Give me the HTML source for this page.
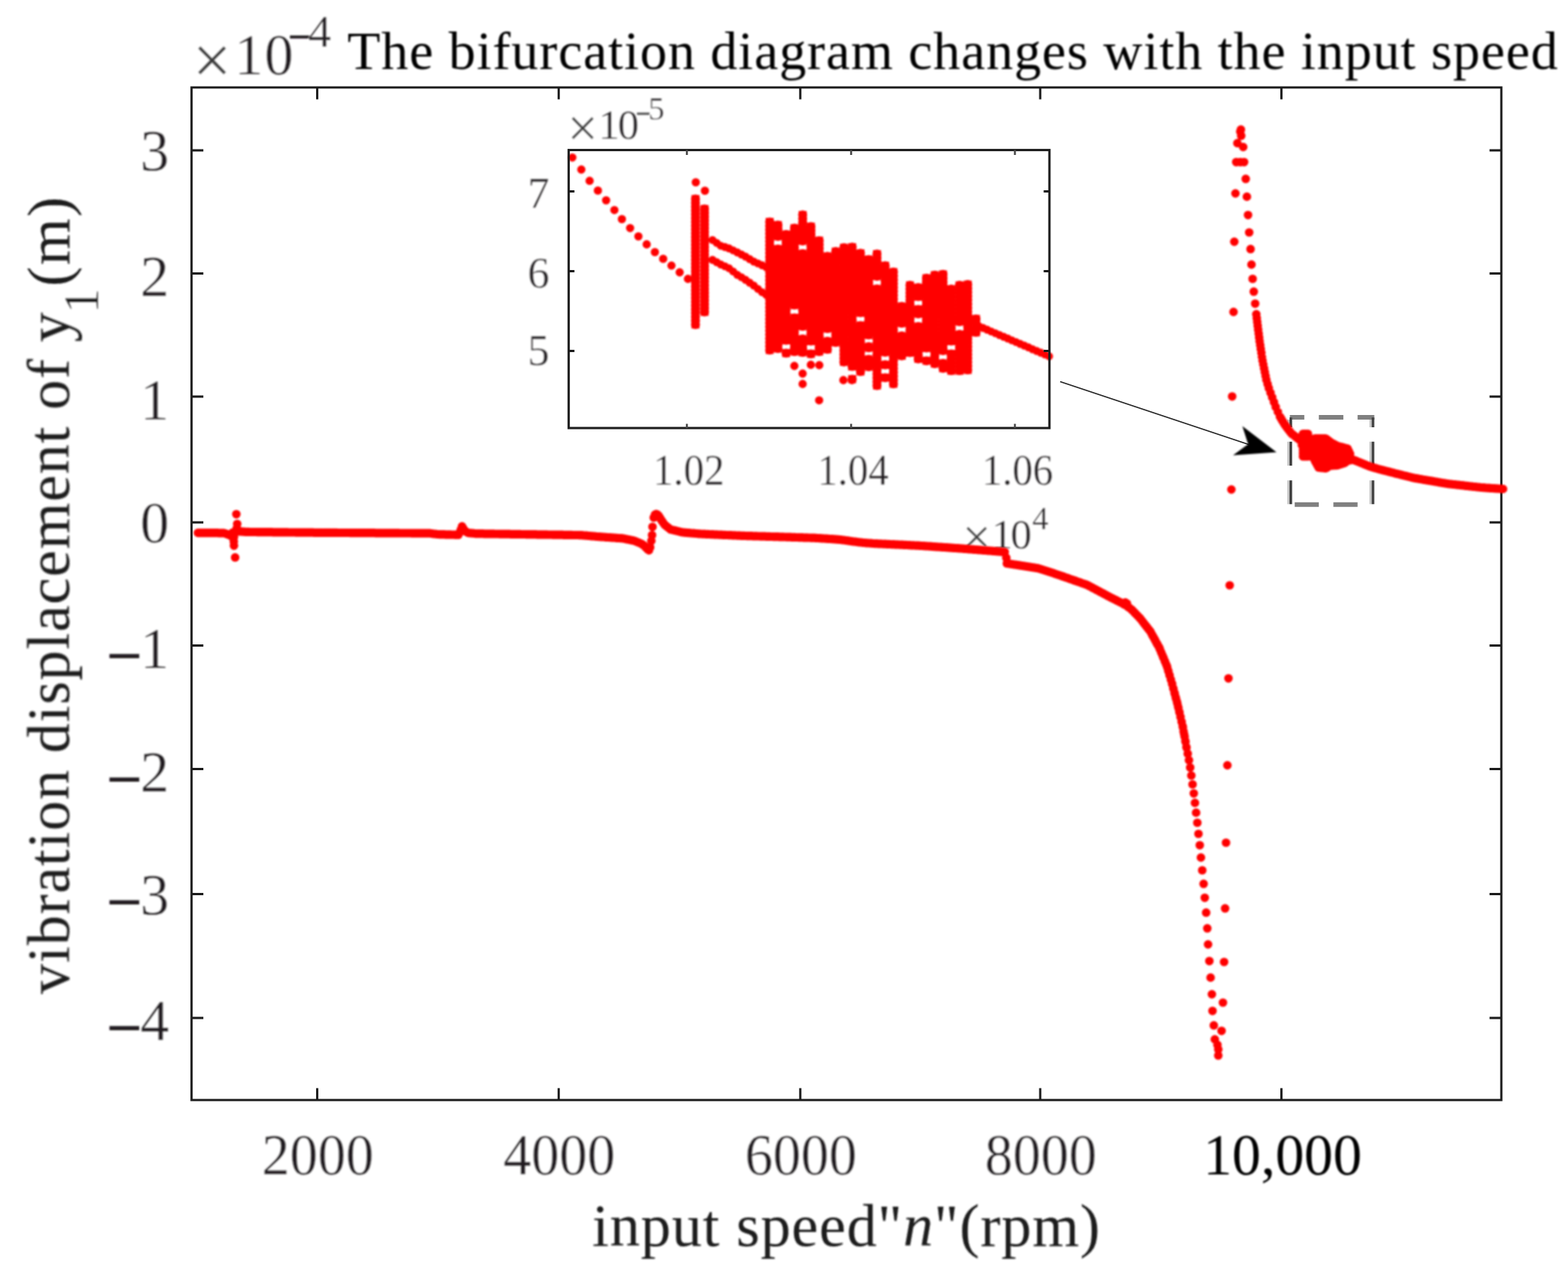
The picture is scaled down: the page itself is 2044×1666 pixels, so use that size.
<!DOCTYPE html>
<html lang="en"><head><meta charset="utf-8"><title>The bifurcation diagram changes with the input speed</title>
<style>html,body{margin:0;padding:0;background:#fff}body{width:2044px;height:1666px;overflow:hidden}svg{display:block}</style>
</head><body>
<svg width="2044" height="1666" viewBox="0 0 2044 1666"><rect width="2044" height="1666" fill="#fff"/><defs><filter id="ft" x="0" y="0" width="2044" height="1666" filterUnits="userSpaceOnUse"><feGaussianBlur stdDeviation="0.9"/></filter><filter id="fd" x="0" y="0" width="2044" height="1666" filterUnits="userSpaceOnUse"><feGaussianBlur stdDeviation="0.95"/></filter></defs><g stroke="#1c1c1c" stroke-width="2.9" fill="none"><rect x="249.7" y="114" width="1707.4" height="1320"/><path d="M413.5 1434v-15.4M413.5 114v15.4M728.3 1434v-15.4M728.3 114v15.4M1043.2 1434v-15.4M1043.2 114v15.4M1356 1434v-15.4M1356 114v15.4M1670.4 1434v-15.4M1670.4 114v15.4M249.7 196h15.4M1957.1 196h-15.4M249.7 356.5h15.4M1957.1 356.5h-15.4M249.7 517h15.4M1957.1 517h-15.4M249.7 681h15.4M1957.1 681h-15.4M249.7 841.5h15.4M1957.1 841.5h-15.4M249.7 1002.5h15.4M1957.1 1002.5h-15.4M249.7 1165.5h15.4M1957.1 1165.5h-15.4M249.7 1327h15.4M1957.1 1327h-15.4"/></g><g font-family='"Liberation Serif", "DejaVu Serif", serif' fill="#231f20" stroke="#fff" stroke-width="0.4" filter="url(#ft)"><text x="251.1" y="108.9" font-size="90" fill="#3a3a3a">×</text><text x="305.6" y="96.7" font-size="75.5" letter-spacing="1.4">10</text><text x="375.8" y="65.75" font-size="54" stroke="#231f20" stroke-width="1.2">−</text><text x="401.7" y="61.2" font-size="60">4</text><text x="452.7" y="89.7" font-size="70.5" textLength="1578" lengthAdjust="spacing" fill="#000" stroke="none">The bifurcation diagram changes with the input speed</text><text x="182.75" y="221.6" font-size="75.5">3</text><text x="182.75" y="386" font-size="75.5">2</text><text x="182.75" y="546.6" font-size="75.5">1</text><text x="182.75" y="707.1" font-size="75.5">0</text><text font-size="75.5"><tspan x="139.6" y="881.9" font-size="80" stroke="#231f20" stroke-width="1.6">−</tspan><tspan x="182.75" y="871.3">1</tspan></text><text font-size="75.5"><tspan x="139.6" y="1042.7" font-size="80" stroke="#231f20" stroke-width="1.6">−</tspan><tspan x="182.75" y="1032.1">2</tspan></text><text font-size="75.5"><tspan x="139.6" y="1202.9" font-size="80" stroke="#231f20" stroke-width="1.6">−</tspan><tspan x="182.75" y="1192.3">3</tspan></text><text font-size="75.5"><tspan x="139.6" y="1366.9" font-size="80" stroke="#231f20" stroke-width="1.6">−</tspan><tspan x="182.75" y="1356.3">4</tspan></text><text x="414.3" y="1530.6" font-size="76" text-anchor="middle" textLength="146" lengthAdjust="spacingAndGlyphs">2000</text><text x="729.0999999999999" y="1530.6" font-size="76" text-anchor="middle" textLength="146" lengthAdjust="spacingAndGlyphs">4000</text><text x="1044.0" y="1530.6" font-size="76" text-anchor="middle" textLength="146" lengthAdjust="spacingAndGlyphs">6000</text><text x="1356.8" y="1530.6" font-size="76" text-anchor="middle" textLength="146" lengthAdjust="spacingAndGlyphs">8000</text><text x="1671.9" y="1530.6" font-size="76" text-anchor="middle" textLength="207" lengthAdjust="spacingAndGlyphs" fill="#000" stroke="none">10,000</text><text x="772" y="1624.2" font-size="78.5" textLength="662" lengthAdjust="spacing" fill="#1a1a1a" stroke="none">input speed"<tspan font-style="italic">n</tspan>"(rpm)</text><text transform="translate(89.6 1295.5) rotate(-90)" font-size="78" textLength="888.5" lengthAdjust="spacing" fill="#1a1a1a" stroke="none">vibration displacement of y</text><text transform="translate(128 408.7) rotate(-90)" font-size="66" fill="#1a1a1a">1</text><text transform="translate(89.6 373.6) rotate(-90)" font-size="78.5" textLength="117" lengthAdjust="spacing" fill="#1a1a1a" stroke="none">(m)</text><text x="716.2" y="271.2" font-size="57" text-anchor="end">7</text><text x="716.2" y="374.6" font-size="57" text-anchor="end">6</text><text x="716.2" y="475.8" font-size="57" text-anchor="end">5</text><text x="897.8" y="632.3" font-size="56.5" text-anchor="middle" textLength="93" lengthAdjust="spacingAndGlyphs">1.02</text><text x="1112" y="632.3" font-size="56.5" text-anchor="middle" textLength="93" lengthAdjust="spacingAndGlyphs">1.04</text><text x="1326.4" y="632.3" font-size="56.5" text-anchor="middle" textLength="93" lengthAdjust="spacingAndGlyphs">1.06</text><text x="739.5" y="191.3" font-size="71" fill="#3a3a3a">×</text><text x="780" y="181.3" font-size="55.5" letter-spacing="-2.6">10</text><text x="829.3" y="158.6" font-size="32" stroke="#555" stroke-width="1.5">−</text><text x="845.1" y="156.2" font-size="42.5">5</text><text x="1254.5" y="721.5" font-size="66" fill="#3a3a3a">×</text><text x="1292.6" y="714.6" font-size="55.5" letter-spacing="-3">10</text><text x="1345.6" y="689.8" font-size="42.5">4</text></g><path d="M1382 497.5L1628 579.5" stroke="#222" stroke-width="1.7" fill="none"/><g filter="url(#ft)"><path d="M1664 589.5L1619.5 555.5L1627 579L1607.3 593.5Z" fill="#000"/></g><g fill="none" stroke-width="6" stroke="#808080"><path d="M1681.4 543.9H1700.3M1719.2 543.9H1751.2M1769.7 543.9H1791.5"/><path d="M1687.7 657.7H1719.2M1738.2 657.7H1769.7"/></g><path d="M1682.7 544.3V556.9M1682.7 575.8V606.9M1682.7 626.2V657.3" stroke="#404040" stroke-width="3.4" fill="none"/><path d="M1679.6000000000001 547V556.9M1679.6000000000001 575.8V606.9M1679.6000000000001 626.2V657.3" stroke="#c4c4c4" stroke-width="2.8" fill="none"/><path d="M1789.8 544.3V556.9M1789.8 575.8V606.9M1789.8 626.2V657.3" stroke="#404040" stroke-width="3.4" fill="none"/><path d="M1786.7 547V556.9M1786.7 575.8V606.9M1786.7 626.2V657.3" stroke="#c4c4c4" stroke-width="2.8" fill="none"/><g stroke="#ff0000" fill="none" stroke-linecap="round" filter="url(#fd)"><path d="M258.0 694.6h0M259.6 694.6h0M261.1 694.6h0M262.7 694.6h0M264.3 694.6h0M265.9 694.6h0M267.4 694.7h0M269.0 694.7h0M270.6 694.7h0M272.1 694.7h0M273.7 694.7h0M275.3 694.7h0M276.9 694.7h0M278.4 694.7h0M280.0 694.7h0M281.6 694.7h0M283.2 694.7h0M284.7 694.8h0M286.3 694.8h0M287.9 694.8h0M289.4 694.8h0M291.0 694.8h0M292.6 695.0h0M294.2 695.6h0M295.7 696.2h0M297.3 696.7h0M298.9 697.5h0M300.4 698.4h0M302.0 699.2h0M303.6 694.0h0M305.2 693.7h0M306.7 693.4h0M308.3 693.1h0M309.9 692.8h0M311.4 692.6h0M313.0 692.8h0M314.6 692.9h0M316.2 693.1h0M317.7 693.2h0M319.3 693.3h0M320.9 693.4h0M322.5 693.4h0M324.0 693.4h0M325.6 693.5h0M327.2 693.5h0M328.7 693.5h0M330.3 693.5h0M331.9 693.5h0M333.5 693.5h0M335.0 693.6h0M336.6 693.6h0M338.2 693.6h0M339.7 693.6h0M341.3 693.6h0M342.9 693.6h0M344.5 693.6h0M346.0 693.7h0M347.6 693.7h0M349.2 693.7h0M350.7 693.7h0M352.3 693.7h0M353.9 693.7h0M355.5 693.8h0M357.0 693.8h0M358.6 693.8h0M360.2 693.8h0M361.8 693.8h0M363.3 693.8h0M364.9 693.8h0M366.5 693.9h0M368.0 693.9h0M369.6 693.9h0M371.2 693.9h0M372.8 693.9h0M374.3 693.9h0M375.9 694.0h0M377.5 694.0h0M379.0 694.0h0M380.6 694.0h0M382.2 694.0h0M383.8 694.0h0M385.3 694.1h0M386.9 694.1h0M388.5 694.1h0M390.0 694.1h0M391.6 694.1h0M393.2 694.1h0M394.8 694.1h0M396.3 694.2h0M397.9 694.2h0M399.5 694.2h0M401.1 694.2h0M402.6 694.2h0M404.2 694.2h0M405.8 694.2h0M407.3 694.2h0M408.9 694.3h0M410.5 694.3h0M412.1 694.3h0M413.6 694.3h0M415.2 694.3h0M416.8 694.3h0M418.3 694.3h0M419.9 694.3h0M421.5 694.3h0M423.1 694.3h0M424.6 694.4h0M426.2 694.4h0M427.8 694.4h0M429.3 694.4h0M430.9 694.4h0M432.5 694.4h0M434.1 694.4h0M435.6 694.4h0M437.2 694.4h0M438.8 694.4h0M440.4 694.5h0M441.9 694.5h0M443.5 694.5h0M445.1 694.5h0M446.6 694.5h0M448.2 694.5h0M449.8 694.5h0M451.4 694.5h0M452.9 694.5h0M454.5 694.5h0M456.1 694.6h0M457.6 694.6h0M459.2 694.6h0M460.8 694.6h0M462.4 694.6h0M463.9 694.6h0M465.5 694.6h0M467.1 694.6h0M468.6 694.6h0M470.2 694.6h0M471.8 694.6h0M473.4 694.7h0M474.9 694.7h0M476.5 694.7h0M478.1 694.7h0M479.7 694.7h0M481.2 694.7h0M482.8 694.7h0M484.4 694.7h0M485.9 694.7h0M487.5 694.7h0M489.1 694.8h0M490.7 694.8h0M492.2 694.8h0M493.8 694.8h0M495.4 694.8h0M496.9 694.8h0M498.5 694.8h0M500.1 694.8h0M501.7 694.8h0M503.2 694.8h0M504.8 694.9h0M506.4 694.9h0M507.9 694.9h0M509.5 694.9h0M511.1 694.9h0M512.7 694.9h0M514.2 694.9h0M515.8 694.9h0M517.4 694.9h0M519.0 694.9h0M520.5 695.0h0M522.1 695.0h0M523.7 695.0h0M525.2 695.0h0M526.8 695.0h0M528.4 695.0h0M530.0 695.0h0M531.5 695.0h0M533.1 695.0h0M534.7 695.0h0M536.2 695.1h0M537.8 695.1h0M539.4 695.1h0M541.0 695.1h0M542.5 695.1h0M544.1 695.1h0M545.7 695.1h0M547.2 695.1h0M548.8 695.1h0M550.4 695.1h0M552.0 695.1h0M553.5 695.2h0M555.1 695.2h0M556.7 695.2h0M558.3 695.2h0M559.8 695.2h0M561.4 695.4h0M563.0 695.6h0M564.5 695.8h0M566.1 696.0h0M567.7 696.2h0M569.3 696.4h0M570.8 696.5h0M572.4 696.6h0M574.0 696.6h0M575.5 696.6h0M577.1 696.7h0M578.7 696.7h0M580.3 696.8h0M581.8 696.8h0M583.4 696.8h0M585.0 696.9h0M586.5 696.9h0M588.1 697.0h0M589.7 697.0h0M591.3 697.0h0M592.8 697.1h0M594.4 697.1h0M596.0 697.1h0M597.6 697.2h0M599.1 694.4h0M600.7 690.4h0M602.3 686.1h0M603.8 688.6h0M605.4 691.1h0M607.0 692.6h0M608.6 693.7h0M610.1 694.6h0M611.7 694.8h0M613.3 694.9h0M614.8 695.1h0M616.4 695.2h0M618.0 695.4h0M619.6 695.6h0M621.1 695.6h0M622.7 695.6h0M624.3 695.7h0M625.8 695.7h0M627.4 695.7h0M629.0 695.7h0M630.6 695.8h0M632.1 695.8h0M633.7 695.8h0M635.3 695.8h0M636.9 695.8h0M638.4 695.9h0M640.0 695.9h0M641.6 695.9h0M643.1 695.9h0M644.7 696.0h0M646.3 696.0h0M647.9 696.0h0M649.4 696.0h0M651.0 696.1h0M652.6 696.1h0M654.1 696.1h0M655.7 696.1h0M657.3 696.1h0M658.9 696.2h0M660.4 696.2h0M662.0 696.2h0M663.6 696.2h0M665.1 696.3h0M666.7 696.3h0M668.3 696.3h0M669.9 696.3h0M671.4 696.4h0M673.0 696.4h0M674.6 696.4h0M676.2 696.4h0M677.7 696.4h0M679.3 696.5h0M680.9 696.5h0M682.4 696.5h0M684.0 696.5h0M685.6 696.6h0M687.2 696.6h0M688.7 696.6h0M690.3 696.6h0M691.9 696.6h0M693.4 696.7h0M695.0 696.7h0M696.6 696.7h0M698.2 696.7h0M699.7 696.8h0M701.3 696.8h0M702.9 696.8h0M704.4 696.8h0M706.0 696.9h0M707.6 696.9h0M709.2 696.9h0M710.7 696.9h0M712.3 696.9h0M713.9 697.0h0M715.5 697.0h0M717.0 697.0h0M718.6 697.0h0M720.2 697.1h0M721.7 697.1h0M723.3 697.1h0M724.9 697.1h0M726.5 697.2h0M728.0 697.2h0M729.6 697.2h0M731.2 697.2h0M732.7 697.2h0M734.3 697.3h0M735.9 697.3h0M737.5 697.3h0M739.0 697.3h0M740.6 697.4h0M742.2 697.4h0M743.7 697.4h0M745.3 697.4h0M746.9 697.5h0M748.5 697.5h0M750.0 697.5h0M751.6 697.5h0M753.2 697.5h0M754.8 697.6h0M756.3 697.6h0M757.9 697.7h0M759.5 697.8h0M761.0 698.0h0M762.6 698.1h0M764.2 698.2h0M765.8 698.4h0M767.3 698.5h0M768.9 698.6h0M770.5 698.8h0M772.0 698.9h0M773.6 699.0h0M775.2 699.2h0M776.8 699.3h0M778.3 699.5h0M779.9 699.6h0M781.5 699.7h0M783.0 699.8h0M784.6 699.9h0M786.2 700.0h0M787.8 700.1h0M789.3 700.3h0M790.9 700.4h0M792.5 700.5h0M794.1 700.6h0M795.6 700.7h0M797.2 700.8h0M798.8 700.9h0M800.3 701.0h0M801.9 701.1h0M803.5 701.3h0M805.1 701.4h0M806.6 701.5h0M808.2 701.6h0M809.8 701.7h0M811.3 701.8h0M812.9 702.1h0M814.5 702.4h0M816.1 702.8h0M817.6 703.1h0M819.2 703.4h0M820.8 703.7h0M822.3 704.1h0M823.9 704.4h0M825.5 704.7h0M827.1 705.0h0M828.6 705.7h0M830.2 706.3h0M831.8 707.0h0M833.4 707.6h0M834.9 708.3h0M836.5 709.0h0M838.1 710.2h0M839.6 711.3h0M841.2 713.0h0M842.8 714.6h0M844.4 716.2h0M845.9 717.4h0M847.5 713.5h0M849.1 705.1h0M850.6 686.8h0M852.2 674.7h0M853.8 670.9h0M855.4 670.0h0M856.9 670.6h0M858.5 672.2h0M860.1 674.7h0M861.6 677.2h0M863.2 679.5h0M864.8 681.9h0M866.4 684.0h0M867.9 685.3h0M869.5 686.6h0M871.1 687.8h0M872.7 689.1h0M874.2 690.2h0M875.8 690.6h0M877.4 691.0h0M878.9 691.4h0M880.5 691.7h0M882.1 692.1h0M883.7 692.5h0M885.2 692.9h0M886.8 693.3h0M888.4 693.7h0M889.9 694.0h0M891.5 694.2h0M893.1 694.3h0M894.7 694.4h0M896.2 694.6h0M897.8 694.7h0M899.4 694.8h0M900.9 695.0h0M902.5 695.1h0M904.1 695.2h0M905.7 695.4h0M907.2 695.5h0M908.8 695.6h0M910.4 695.8h0M912.0 695.9h0M913.5 696.0h0M915.1 696.1h0M916.7 696.2h0M918.2 696.2h0M919.8 696.3h0M921.4 696.4h0M923.0 696.4h0M924.5 696.5h0M926.1 696.6h0M927.7 696.7h0M929.2 696.7h0M930.8 696.8h0M932.4 696.9h0M934.0 696.9h0M935.5 697.0h0M937.1 697.1h0M938.7 697.1h0M940.2 697.2h0M941.8 697.3h0M943.4 697.3h0M945.0 697.4h0M946.5 697.5h0M948.1 697.5h0M949.7 697.6h0M951.3 697.7h0M952.8 697.7h0M954.4 697.8h0M956.0 697.9h0M957.5 697.9h0M959.1 698.0h0M960.7 698.1h0M962.3 698.1h0M963.8 698.2h0M965.4 698.3h0M967.0 698.3h0M968.5 698.4h0M970.1 698.4h0M971.7 698.5h0M973.3 698.6h0M974.8 698.6h0M976.4 698.6h0M978.0 698.7h0M979.5 698.7h0M981.1 698.8h0M982.7 698.8h0M984.3 698.9h0M985.8 698.9h0M987.4 699.0h0M989.0 699.0h0M990.6 699.1h0M992.1 699.1h0M993.7 699.2h0M995.3 699.2h0M996.8 699.2h0M998.4 699.3h0M1000.0 699.3h0M1001.6 699.4h0M1003.1 699.4h0M1004.7 699.5h0M1006.3 699.5h0M1007.8 699.6h0M1009.4 699.6h0M1011.0 699.7h0M1012.6 699.7h0M1014.1 699.7h0M1015.7 699.8h0M1017.3 699.8h0M1018.8 699.9h0M1020.4 699.9h0M1022.0 700.0h0M1023.6 700.0h0M1025.1 700.1h0M1026.7 700.1h0M1028.3 700.2h0M1029.9 700.2h0M1031.4 700.3h0M1033.0 700.3h0M1034.6 700.4h0M1036.1 700.4h0M1037.7 700.5h0M1039.3 700.5h0M1040.9 700.6h0M1042.4 700.6h0M1044.0 700.7h0M1045.6 700.7h0M1047.1 700.8h0M1048.7 700.8h0M1050.3 700.9h0M1051.9 700.9h0M1053.4 701.0h0M1055.0 701.0h0M1056.6 701.1h0M1058.1 701.1h0M1059.7 701.2h0M1061.3 701.2h0M1062.9 701.3h0M1064.4 701.3h0M1066.0 701.5h0M1067.6 701.6h0M1069.2 701.7h0M1070.7 701.8h0M1072.3 701.9h0M1073.9 702.0h0M1075.4 702.1h0M1077.0 702.2h0M1078.6 702.3h0M1080.2 702.4h0M1081.7 702.5h0M1083.3 702.6h0M1084.9 702.7h0M1086.4 702.8h0M1088.0 702.9h0M1089.6 703.1h0M1091.2 703.2h0M1092.7 703.3h0M1094.3 703.4h0M1095.9 703.6h0M1097.4 703.8h0M1099.0 704.0h0M1100.6 704.2h0M1102.2 704.5h0M1103.7 704.7h0M1105.3 704.9h0M1106.9 705.2h0M1108.5 705.4h0M1110.0 705.6h0M1111.6 705.8h0M1113.2 706.0h0M1114.7 706.2h0M1116.3 706.4h0M1117.9 706.6h0M1119.5 706.8h0M1121.0 707.0h0M1122.6 707.1h0M1124.2 707.3h0M1125.7 707.5h0M1127.3 707.6h0M1128.9 707.8h0M1130.5 707.9h0M1132.0 708.0h0M1133.6 708.1h0M1135.2 708.2h0M1136.7 708.4h0M1138.3 708.5h0M1139.9 708.6h0M1141.5 708.7h0M1143.0 708.7h0M1144.6 708.8h0M1146.2 708.9h0M1147.8 708.9h0M1149.3 709.0h0M1150.9 709.1h0M1152.5 709.2h0M1154.0 709.2h0M1155.6 709.3h0M1157.2 709.4h0M1158.8 709.4h0M1160.3 709.5h0M1161.9 709.6h0M1163.5 709.7h0M1165.0 709.7h0M1166.6 709.8h0M1168.2 709.9h0M1169.8 709.9h0M1171.3 710.0h0M1172.9 710.1h0M1174.5 710.2h0M1176.0 710.2h0M1177.6 710.3h0M1179.2 710.4h0M1180.8 710.4h0M1182.3 710.5h0M1183.9 710.6h0M1185.5 710.7h0M1187.1 710.8h0M1188.6 710.8h0M1190.2 710.9h0M1191.8 711.0h0M1193.3 711.1h0M1194.9 711.1h0M1196.5 711.2h0M1198.1 711.3h0M1199.6 711.4h0M1201.2 711.5h0M1202.8 711.6h0M1204.3 711.7h0M1205.9 711.8h0M1207.5 711.9h0M1209.1 712.0h0M1210.6 712.1h0M1212.2 712.2h0M1213.8 712.3h0M1215.3 712.4h0M1216.9 712.6h0M1218.5 712.7h0M1220.1 712.8h0M1221.6 712.9h0M1223.2 713.0h0M1224.8 713.1h0M1226.4 713.2h0M1227.9 713.3h0M1229.5 713.4h0M1231.1 713.5h0M1232.6 713.6h0M1234.2 713.7h0M1235.8 713.8h0M1237.4 713.9h0M1238.9 714.1h0M1240.5 714.2h0M1242.1 714.3h0M1243.6 714.4h0M1245.2 714.5h0M1246.8 714.6h0M1248.4 714.7h0M1249.9 714.8h0M1251.5 714.9h0M1253.1 715.0h0M1254.6 715.2h0M1256.2 715.3h0M1257.8 715.4h0M1259.4 715.5h0M1260.9 715.7h0M1262.5 715.8h0M1264.1 715.9h0M1265.7 716.0h0M1267.2 716.2h0M1268.8 716.3h0M1270.4 716.4h0M1271.9 716.5h0M1273.5 716.7h0M1275.1 716.8h0M1276.7 716.9h0M1278.2 717.0h0M1279.8 717.2h0M1281.4 717.3h0M1282.9 717.4h0M1284.5 717.5h0M1286.1 717.7h0M1287.7 717.8h0M1289.2 717.9h0M1290.8 718.0h0M1292.4 718.2h0M1293.9 718.3h0M1295.5 718.4h0M1297.1 718.6h0M1298.7 718.7h0M1300.2 718.8h0M1301.8 718.9h0M1303.4 719.1h0M1305.0 719.2h0M1306.5 719.3h0M1308.1 719.4h0M1309.7 719.5h0M308.1 670.3h0M309.2 683.0h0M308.6 688.5h0M305.0 700.0h0M304.8 706.0h0M305.0 711.3h0M306.5 726.7h0M1312.5 734.5h0M1314.1 734.7h0M1315.6 735.0h0M1317.2 735.2h0M1318.8 735.5h0M1320.4 735.7h0M1321.9 736.0h0M1323.5 736.2h0M1325.1 736.4h0M1326.6 736.7h0M1328.2 736.9h0M1329.8 737.2h0M1331.4 737.4h0M1332.9 737.6h0M1334.5 737.9h0M1336.1 738.1h0M1337.7 738.4h0M1339.2 738.6h0M1340.8 738.9h0M1342.4 739.1h0M1343.9 739.4h0M1345.5 739.6h0M1347.1 739.9h0M1348.7 740.1h0M1350.2 740.4h0M1351.8 740.6h0M1353.4 740.9h0M1354.9 741.3h0M1356.5 741.8h0M1358.1 742.3h0M1359.7 742.8h0M1361.2 743.4h0M1362.8 743.9h0M1364.4 744.4h0M1365.9 744.9h0M1367.5 745.4h0M1369.1 745.9h0M1370.7 746.4h0M1372.2 746.9h0M1373.8 747.4h0M1375.4 748.0h0M1377.0 748.5h0M1378.5 749.0h0M1380.1 749.5h0M1381.7 750.1h0M1383.2 750.6h0M1384.8 751.2h0M1386.4 751.7h0M1388.0 752.3h0M1389.5 752.8h0M1391.1 753.4h0M1392.7 753.9h0M1394.2 754.5h0M1395.8 755.0h0M1397.4 755.6h0M1399.0 756.1h0M1400.5 756.7h0M1402.1 757.2h0M1403.7 757.8h0M1405.2 758.3h0M1406.8 758.9h0M1408.4 759.4h0M1410.0 760.0h0M1411.5 760.5h0M1413.1 761.1h0M1414.7 761.6h0M1416.3 762.2h0M1417.8 762.8h0M1419.4 763.7h0M1421.0 764.5h0M1422.5 765.3h0M1424.1 766.2h0M1425.7 767.0h0M1427.3 767.9h0M1428.8 768.7h0M1430.4 769.5h0M1432.0 770.4h0M1433.5 771.2h0M1435.1 772.1h0M1436.7 772.9h0M1438.3 773.7h0M1439.8 774.6h0M1441.4 775.4h0M1443.0 776.3h0M1444.5 777.1h0M1446.1 777.9h0M1447.7 778.8h0M1449.3 779.5h0M1450.8 780.3h0M1452.4 781.1h0M1454.0 781.9h0M1455.6 782.7h0M1457.1 783.5h0M1458.7 784.3h0M1460.3 785.1h0M1461.8 785.9h0M1463.4 786.8h0M1465.0 787.7h0M1466.6 788.5h0M1468.1 789.4h0M1469.7 790.5h0M1471.3 791.7h0M1472.8 792.9h0M1474.4 794.1h0M1476.0 795.5h0M1477.6 797.1h0M1479.1 798.7h0M1480.7 800.4h0M1482.3 802.0h0M1483.8 803.6h0M1485.4 805.2h0M1487.0 807.1h0M1488.6 809.1h0M1490.1 811.1h0M1491.7 813.2h0M1493.3 815.2h0M1494.9 817.2h0M1496.4 819.2h0M1498.0 821.2h0M1499.6 823.3h0M1501.1 826.1h0M1502.7 829.0h0M1504.3 831.8h0M1505.9 834.7h0M1507.4 837.6h0M1509.0 840.4h0M1510.6 843.3h0M1512.1 846.6h0M1513.7 850.4h0M1515.3 854.2h0M1516.9 858.0h0M1518.4 861.8h0M1520.0 865.6h0M1521.6 869.9h0M1523.1 875.3h0M1524.7 880.6h0M1526.3 886.0h0M1527.9 891.3h0M1529.4 897.2h0M1531.0 903.0h0M1532.6 908.9h0M1534.2 914.8h0M1535.7 921.1h0M1537.3 927.8h0M1538.9 934.5h0M1540.4 941.2h0M1542.0 948.3h0M1543.6 957.1h0M1545.2 965.9h0M1546.7 974.6h0M1548.3 982.5h0M1475.0 794.5h0M1480.5 800.1h0M1485.9 805.7h0M1490.5 811.6h0M1495.0 817.4h0M1499.6 823.3h0M1502.5 828.7h0M1505.5 834.0h0M1508.5 839.4h0M1511.4 844.8h0M1513.8 850.7h0M1516.2 856.5h0M1518.7 862.4h0M1521.1 868.3h0M1522.8 874.2h0M1524.5 880.0h0M1526.3 885.9h0M1528.0 891.8h0M1529.7 898.1h0M1531.4 904.5h0M1533.1 910.9h0M1534.8 917.2h0M1536.2 923.1h0M1537.6 929.0h0M1538.9 934.8h0M1540.3 940.7h0M1541.7 946.6h0M1542.9 953.5h0M1544.2 960.3h0M1545.4 967.1h0M1546.6 974.0h0M1548.3 982.5h0M1311.8 727.2h0M850.0 697.5h0M1467.0 785.4h0M1469.0 786.8h0M1549.9 991.0h0M1551.5 1000.5h0M1553.0 1011.0h0M1554.6 1022.5h0M1556.2 1034.3h0M1557.7 1046.6h0M1559.2 1059.4h0M1560.8 1072.5h0M1562.3 1087.0h0M1564.0 1101.8h0M1565.5 1117.9h0M1567.2 1134.5h0M1569.0 1152.2h0M1570.5 1170.3h0M1572.3 1189.7h0M1573.8 1210.2h0M1574.8 1231.1h0M1576.5 1252.8h0M1578.1 1274.4h0M1579.8 1296.1h0M1580.6 1317.8h0M1582.3 1336.7h0M1583.6 1354.9h0M1587.0 1362.0h0M1588.1 1368.0h0M1588.1 1376.0h0M1592.4 1343.8h0M1594.2 1307.0h0M1595.7 1254.0h0M1597.0 1184.2h0M1598.2 1098.5h0M1600.0 997.6h0M1601.4 884.3h0M1603.0 763.0h0M1605.2 638.1h0M1606.2 516.8h0M1608.0 406.6h0M1609.0 315.1h0M1610.5 252.1h0M1611.5 211.3h0M1613.0 186.6h0M1616.8 171.4h0M1618.0 177.0h0M1617.6 168.9h0M1620.6 191.6h0M1617.0 211.3h0M1621.8 211.3h0M1623.9 233.2h0M1625.4 256.4h0M1626.9 280.3h0M1628.4 303.0h0M1630.2 324.7h0M1631.4 344.9h0M1632.9 363.5h0M1634.4 380.2h0M1636.2 395.8h0M1637.7 409.6h0M1637.7 409.6h0M1638.3 414.7h0M1638.9 419.7h0M1639.5 424.8h0M1640.1 429.8h0M1640.8 434.9h0M1641.4 439.9h0M1642.0 444.9h0M1642.8 449.9h0M1643.5 455.0h0M1644.3 460.0h0M1645.0 465.1h0M1645.8 470.1h0M1646.8 475.1h0M1647.8 480.2h0M1648.8 485.2h0M1649.8 490.3h0M1650.8 495.3h0M1652.4 500.6h0M1654.0 506.0h0M1656.2 512.0h0M1658.4 518.0h0M1660.7 524.2h0M1663.0 530.5h0M1665.8 536.9h0M1668.5 543.2h0M1668.5 543.2h0M1670.1 545.8h0M1671.6 548.4h0M1673.2 551.0h0M1674.8 553.6h0M1676.4 555.8h0M1677.9 557.9h0M1679.5 560.0h0M1681.1 562.1h0M1682.6 564.1h0M1684.2 565.7h0M1685.8 566.9h0M1687.4 568.1h0M1688.9 569.3h0M1690.5 570.5h0M1692.1 571.8h0M1693.7 573.0h0M1695.2 574.1h0M1696.8 574.9h0M1698.4 575.7h0M1699.9 576.5h0M1701.5 577.3h0M1703.1 578.0h0M1704.7 578.8h0M1706.2 579.6h0M1707.8 580.4h0M1709.4 581.2h0M1710.9 581.8h0M1712.5 582.3h0M1714.1 582.8h0M1715.7 583.3h0M1717.2 583.9h0M1718.8 584.4h0M1720.4 584.9h0M1721.9 585.4h0M1723.5 585.9h0M1725.1 586.4h0M1726.7 586.9h0M1728.2 587.4h0M1729.8 587.9h0M1731.4 588.5h0M1733.0 589.0h0M1734.5 589.5h0M1736.1 590.0h0M1737.7 590.5h0M1739.2 591.0h0M1740.8 591.5h0M1742.4 592.1h0M1744.0 592.6h0M1745.5 593.1h0M1747.1 593.6h0M1748.7 594.1h0M1750.2 594.6h0M1751.8 595.2h0M1753.4 595.7h0M1755.0 596.2h0M1756.5 596.7h0M1758.1 597.2h0M1759.7 597.7h0M1761.2 598.3h0M1762.8 598.8h0M1764.4 599.5h0M1766.0 600.1h0M1767.5 600.7h0M1769.1 601.4h0M1770.7 602.0h0M1772.3 602.6h0M1773.8 603.3h0M1775.4 603.9h0M1777.0 604.5h0M1778.5 605.2h0M1780.1 605.8h0M1781.7 606.5h0M1783.3 607.1h0M1784.8 607.7h0M1786.4 608.3h0M1788.0 608.8h0M1789.5 609.2h0M1791.1 609.7h0M1792.7 610.2h0M1794.3 610.6h0M1795.8 611.1h0M1797.4 611.5h0M1799.0 612.0h0M1800.5 612.4h0M1802.1 612.8h0M1803.7 613.2h0M1805.3 613.6h0M1806.8 614.0h0M1808.4 614.4h0M1810.0 614.8h0M1811.6 615.2h0M1813.1 615.6h0M1814.7 616.0h0M1816.3 616.4h0M1817.8 616.8h0M1819.4 617.3h0M1821.0 617.6h0M1822.6 618.0h0M1824.1 618.4h0M1825.7 618.8h0M1827.3 619.2h0M1828.8 619.6h0M1830.4 620.0h0M1832.0 620.3h0M1833.6 620.7h0M1835.1 621.1h0M1836.7 621.5h0M1838.3 621.9h0M1839.8 622.3h0M1841.4 622.7h0M1843.0 623.1h0M1844.6 623.4h0M1846.1 623.7h0M1847.7 623.9h0M1849.3 624.2h0M1850.9 624.5h0M1852.4 624.7h0M1854.0 625.0h0M1855.6 625.3h0M1857.1 625.5h0M1858.7 625.8h0M1860.3 626.1h0M1861.9 626.3h0M1863.4 626.6h0M1865.0 626.9h0M1866.6 627.1h0M1868.1 627.4h0M1869.7 627.7h0M1871.3 628.0h0M1872.9 628.2h0M1874.4 628.5h0M1876.0 628.8h0M1877.6 629.0h0M1879.1 629.3h0M1880.7 629.6h0M1882.3 629.8h0M1883.9 630.1h0M1885.4 630.4h0M1887.0 630.6h0M1888.6 630.9h0M1890.2 631.0h0M1891.7 631.2h0M1893.3 631.4h0M1894.9 631.5h0M1896.4 631.7h0M1898.0 631.9h0M1899.6 632.1h0M1901.2 632.2h0M1902.7 632.4h0M1904.3 632.6h0M1905.9 632.7h0M1907.4 632.9h0M1909.0 633.1h0M1910.6 633.3h0M1912.2 633.4h0M1913.7 633.6h0M1915.3 633.8h0M1916.9 634.0h0M1918.4 634.1h0M1920.0 634.3h0M1921.6 634.5h0M1923.2 634.6h0M1924.7 634.8h0M1926.3 635.0h0M1927.9 635.2h0M1929.5 635.3h0M1931.0 635.5h0M1932.6 635.6h0M1934.2 635.7h0M1935.7 635.8h0M1937.3 636.0h0M1938.9 636.1h0M1940.5 636.2h0M1942.0 636.3h0M1943.6 636.4h0M1945.2 636.5h0M1946.7 636.6h0M1948.3 636.7h0M1949.9 636.8h0M1951.5 636.9h0M1953.0 637.0h0M1954.6 637.1h0M1956.2 637.2h0M1957.7 637.3h0M1959.3 637.4h0M1697.0 571.0h0M1697.0 575.5h0M1697.0 580.0h0M1698.6 565.5h0M1698.6 569.7h0M1698.6 573.9h0M1698.6 578.1h0M1698.6 582.4h0M1698.6 586.6h0M1698.6 590.8h0M1698.6 595.0h0M1700.1 565.5h0M1700.1 569.7h0M1700.1 573.9h0M1700.1 578.1h0M1700.1 582.4h0M1700.1 586.6h0M1700.1 590.8h0M1700.1 595.0h0M1701.7 565.5h0M1701.7 569.7h0M1701.7 573.9h0M1701.7 578.1h0M1701.7 582.4h0M1701.7 586.6h0M1701.7 590.8h0M1701.7 595.0h0M1703.3 565.5h0M1703.3 569.7h0M1703.3 573.9h0M1703.3 578.1h0M1703.3 582.4h0M1703.3 586.6h0M1703.3 590.8h0M1703.3 595.0h0M1704.9 565.5h0M1704.9 569.7h0M1704.9 573.9h0M1704.9 578.1h0M1704.9 582.4h0M1704.9 586.6h0M1704.9 590.8h0M1704.9 595.0h0M1706.4 570.8h0M1706.4 575.1h0M1706.4 579.4h0M1706.4 583.6h0M1706.4 587.9h0M1706.4 592.2h0M1708.0 574.3h0M1708.0 578.3h0M1708.0 582.4h0M1708.0 586.4h0M1708.0 590.5h0M1709.6 574.6h0M1709.6 579.9h0M1709.6 585.2h0M1709.6 590.5h0M1711.1 574.7h0M1711.1 578.8h0M1711.1 582.9h0M1711.1 587.0h0M1711.1 591.1h0M1712.7 572.0h0M1712.7 576.3h0M1712.7 580.6h0M1712.7 584.9h0M1712.7 589.2h0M1712.7 593.5h0M1712.7 597.8h0M1714.3 571.5h0M1714.3 575.8h0M1714.3 580.0h0M1714.3 584.3h0M1714.3 588.5h0M1714.3 592.8h0M1714.3 597.0h0M1714.3 601.3h0M1715.9 571.5h0M1715.9 575.6h0M1715.9 579.6h0M1715.9 583.7h0M1715.9 587.8h0M1715.9 591.8h0M1715.9 595.9h0M1715.9 599.9h0M1715.9 604.0h0M1717.4 571.5h0M1717.4 575.9h0M1717.4 580.3h0M1717.4 584.7h0M1717.4 589.1h0M1717.4 593.5h0M1717.4 597.9h0M1717.4 602.4h0M1717.4 606.8h0M1719.0 571.5h0M1719.0 575.7h0M1719.0 579.9h0M1719.0 584.2h0M1719.0 588.4h0M1719.0 592.6h0M1719.0 596.8h0M1719.0 601.1h0M1719.0 605.3h0M1719.0 609.5h0M1720.6 571.5h0M1720.6 575.7h0M1720.6 580.0h0M1720.6 584.2h0M1720.6 588.5h0M1720.6 592.7h0M1720.6 596.9h0M1720.6 601.2h0M1720.6 605.4h0M1720.6 609.7h0M1722.2 571.5h0M1722.2 575.8h0M1722.2 580.0h0M1722.2 584.3h0M1722.2 588.5h0M1722.2 592.8h0M1722.2 597.0h0M1722.2 601.3h0M1722.2 605.6h0M1722.2 609.8h0M1723.7 571.5h0M1723.7 575.8h0M1723.7 580.0h0M1723.7 584.3h0M1723.7 588.6h0M1723.7 592.9h0M1723.7 597.1h0M1723.7 601.4h0M1723.7 605.7h0M1723.7 610.0h0M1725.3 571.5h0M1725.3 575.8h0M1725.3 580.1h0M1725.3 584.4h0M1725.3 588.7h0M1725.3 593.0h0M1725.3 597.3h0M1725.3 601.5h0M1725.3 605.8h0M1725.3 610.1h0M1726.9 571.5h0M1726.9 575.8h0M1726.9 580.1h0M1726.9 584.4h0M1726.9 588.7h0M1726.9 593.0h0M1726.9 597.4h0M1726.9 601.7h0M1726.9 606.0h0M1726.9 610.3h0M1728.4 571.8h0M1728.4 576.1h0M1728.4 580.4h0M1728.4 584.7h0M1728.4 589.0h0M1728.4 593.3h0M1728.4 597.6h0M1728.4 601.9h0M1728.4 606.2h0M1728.4 610.4h0M1730.0 573.0h0M1730.0 577.1h0M1730.0 581.1h0M1730.0 585.2h0M1730.0 589.3h0M1730.0 593.3h0M1730.0 597.4h0M1730.0 601.5h0M1730.0 605.5h0M1730.0 609.6h0M1731.6 574.2h0M1731.6 578.4h0M1731.6 582.7h0M1731.6 587.0h0M1731.6 591.2h0M1731.6 595.5h0M1731.6 599.7h0M1731.6 604.0h0M1731.6 608.2h0M1733.2 575.4h0M1733.2 579.9h0M1733.2 584.4h0M1733.2 588.9h0M1733.2 593.4h0M1733.2 598.0h0M1733.2 602.5h0M1733.2 607.0h0M1734.7 576.5h0M1734.7 580.9h0M1734.7 585.2h0M1734.7 589.6h0M1734.7 593.9h0M1734.7 598.2h0M1734.7 602.6h0M1734.7 606.9h0M1736.3 577.6h0M1736.3 581.8h0M1736.3 586.0h0M1736.3 590.2h0M1736.3 594.3h0M1736.3 598.5h0M1736.3 602.7h0M1736.3 606.9h0M1737.9 578.4h0M1737.9 582.5h0M1737.9 586.5h0M1737.9 590.6h0M1737.9 594.6h0M1737.9 598.7h0M1737.9 602.7h0M1737.9 606.8h0M1739.4 579.2h0M1739.4 583.8h0M1739.4 588.4h0M1739.4 593.0h0M1739.4 597.5h0M1739.4 602.1h0M1739.4 606.7h0M1741.0 580.0h0M1741.0 584.4h0M1741.0 588.9h0M1741.0 593.3h0M1741.0 597.8h0M1741.0 602.2h0M1741.0 606.6h0M1742.6 580.8h0M1742.6 585.1h0M1742.6 589.4h0M1742.6 593.7h0M1742.6 598.0h0M1742.6 602.3h0M1742.6 606.6h0M1744.2 581.5h0M1744.2 585.7h0M1744.2 589.8h0M1744.2 594.0h0M1744.2 598.1h0M1744.2 602.3h0M1744.2 606.4h0M1745.7 582.0h0M1745.7 586.8h0M1745.7 591.5h0M1745.7 596.3h0M1745.7 601.1h0M1745.7 605.9h0M1747.3 582.4h0M1747.3 587.0h0M1747.3 591.6h0M1747.3 596.2h0M1747.3 600.8h0M1747.3 605.4h0M1748.9 582.8h0M1748.9 587.2h0M1748.9 591.6h0M1748.9 596.0h0M1748.9 600.5h0M1748.9 604.9h0M1750.4 583.2h0M1750.4 587.5h0M1750.4 591.7h0M1750.4 595.9h0M1750.4 600.1h0M1750.4 604.4h0M1752.0 583.7h0M1752.0 587.7h0M1752.0 591.7h0M1752.0 595.8h0M1752.0 599.8h0M1752.0 603.8h0M1753.6 584.1h0M1753.6 588.8h0M1753.6 593.6h0M1753.6 598.3h0M1753.6 603.1h0M1755.2 584.5h0M1755.2 588.8h0M1755.2 593.2h0M1755.2 597.5h0M1755.2 601.9h0M1756.7 584.9h0M1756.7 590.2h0M1756.7 595.4h0M1756.7 600.7h0M1758.3 588.1h0M1758.3 592.1h0M1758.3 596.2h0M1758.3 600.3h0M1759.9 591.7h0M1759.9 595.9h0M1759.9 600.0h0" stroke-width="11.2"/><defs><path id="ip" d="M906.6 259.5h0M906.6 264.5h0M906.6 269.4h0M906.6 274.4h0M906.6 279.3h0M906.6 284.3h0M906.6 289.2h0M906.6 294.2h0M906.6 299.1h0M906.6 304.1h0M906.6 309.0h0M906.6 314.0h0M906.6 319.0h0M906.6 323.9h0M906.6 328.9h0M906.6 333.8h0M906.6 338.8h0M906.6 343.7h0M906.6 348.7h0M906.6 353.6h0M906.6 358.6h0M906.6 363.5h0M906.6 368.5h0M906.6 373.5h0M906.6 378.4h0M906.6 383.4h0M906.6 388.3h0M906.6 393.3h0M906.6 398.2h0M906.6 403.2h0M906.6 408.1h0M906.6 413.1h0M906.6 418.0h0M906.6 423.0h0M918.4 272.5h0M918.4 277.5h0M918.4 282.4h0M918.4 287.4h0M918.4 292.4h0M918.4 297.3h0M918.4 302.3h0M918.4 307.2h0M918.4 312.2h0M918.4 317.2h0M918.4 322.1h0M918.4 327.1h0M918.4 332.1h0M918.4 337.0h0M918.4 342.0h0M918.4 346.9h0M918.4 351.9h0M918.4 356.9h0M918.4 361.8h0M918.4 366.8h0M918.4 371.8h0M918.4 376.7h0M918.4 381.7h0M918.4 386.6h0M918.4 391.6h0M918.4 396.6h0M918.4 401.5h0M918.4 406.5h0M1003.3 289.3h0M1003.3 294.4h0M1003.3 299.4h0M1003.3 304.5h0M1003.3 309.6h0M1003.3 314.6h0M1003.3 319.7h0M1003.3 324.7h0M1003.3 329.8h0M1003.3 334.9h0M1003.3 339.9h0M1003.3 345.0h0M1003.3 350.1h0M1003.3 355.1h0M1003.3 360.2h0M1003.3 365.3h0M1003.3 370.3h0M1003.3 375.4h0M1003.3 380.4h0M1003.3 385.5h0M1003.3 390.6h0M1003.3 395.6h0M1003.3 400.7h0M1003.3 405.8h0M1003.3 410.8h0M1003.3 415.9h0M1003.3 421.0h0M1003.3 426.0h0M1003.3 431.1h0M1003.3 436.1h0M1003.3 441.2h0M1003.3 446.3h0M1003.3 451.3h0M1003.3 456.4h0M1014.1 293.4h0M1014.1 298.4h0M1014.1 303.5h0M1014.1 328.6h0M1014.1 333.7h0M1014.1 338.7h0M1014.1 343.7h0M1014.1 348.7h0M1014.1 353.8h0M1014.1 358.8h0M1014.1 363.8h0M1014.1 368.9h0M1014.1 373.9h0M1014.1 378.9h0M1014.1 384.0h0M1014.1 389.0h0M1014.1 394.0h0M1014.1 399.1h0M1014.1 404.1h0M1014.1 409.1h0M1014.1 414.1h0M1014.1 419.2h0M1014.1 424.2h0M1014.1 429.2h0M1014.1 434.3h0M1014.1 439.3h0M1014.1 444.3h0M1014.1 449.4h0M1014.1 454.4h0M1014.1 308.0h0M1014.1 324.6h0M1024.8 305.6h0M1024.8 310.5h0M1024.8 315.5h0M1024.8 320.4h0M1024.8 325.3h0M1024.8 330.2h0M1024.8 335.2h0M1024.8 340.1h0M1024.8 345.0h0M1024.8 350.0h0M1024.8 354.9h0M1024.8 359.8h0M1024.8 364.7h0M1024.8 369.7h0M1024.8 374.6h0M1024.8 379.5h0M1024.8 384.5h0M1024.8 389.4h0M1024.8 394.3h0M1024.8 399.3h0M1024.8 404.2h0M1024.8 409.1h0M1024.8 414.0h0M1024.8 419.0h0M1024.8 423.9h0M1024.8 428.8h0M1024.8 433.8h0M1024.8 438.7h0M1024.8 443.6h0M1024.8 443.7h0M1024.8 460.3h0M1035.6 297.4h0M1035.6 302.4h0M1035.6 307.5h0M1035.6 312.5h0M1035.6 317.5h0M1035.6 322.6h0M1035.6 327.6h0M1035.6 332.6h0M1035.6 337.7h0M1035.6 342.7h0M1035.6 347.7h0M1035.6 352.7h0M1035.6 357.8h0M1035.6 362.8h0M1035.6 367.8h0M1035.6 372.9h0M1035.6 377.9h0M1035.6 382.9h0M1035.6 388.0h0M1035.6 393.0h0M1035.6 418.1h0M1035.6 423.2h0M1035.6 428.2h0M1035.6 433.2h0M1035.6 438.3h0M1035.6 443.3h0M1035.6 448.3h0M1035.6 453.4h0M1035.6 458.4h0M1035.6 397.7h0M1035.6 414.3h0M1046.3 280.1h0M1046.3 285.1h0M1046.3 290.1h0M1046.3 295.0h0M1046.3 300.0h0M1046.3 305.0h0M1046.3 310.0h0M1046.3 334.9h0M1046.3 339.9h0M1046.3 344.8h0M1046.3 349.8h0M1046.3 354.8h0M1046.3 359.8h0M1046.3 364.8h0M1046.3 369.8h0M1046.3 374.7h0M1046.3 379.7h0M1046.3 384.7h0M1046.3 389.7h0M1046.3 394.7h0M1046.3 399.6h0M1046.3 404.6h0M1046.3 409.6h0M1046.3 414.6h0M1046.3 419.6h0M1046.3 424.5h0M1046.3 444.5h0M1046.3 449.4h0M1046.3 454.4h0M1046.3 459.4h0M1046.3 314.1h0M1046.3 330.7h0M1046.3 425.4h0M1046.3 442.0h0M1057.1 295.4h0M1057.1 300.4h0M1057.1 305.4h0M1057.1 310.4h0M1057.1 315.4h0M1057.1 320.4h0M1057.1 325.4h0M1057.1 330.4h0M1057.1 335.4h0M1057.1 340.4h0M1057.1 345.4h0M1057.1 350.4h0M1057.1 355.4h0M1057.1 360.4h0M1057.1 365.4h0M1057.1 370.4h0M1057.1 375.4h0M1057.1 380.4h0M1057.1 385.4h0M1057.1 390.4h0M1057.1 395.4h0M1057.1 400.4h0M1057.1 405.4h0M1057.1 410.4h0M1057.1 415.4h0M1057.1 420.4h0M1057.1 425.4h0M1057.1 430.4h0M1057.1 435.4h0M1057.1 440.4h0M1057.1 444.7h0M1057.1 461.3h0M1067.9 313.8h0M1067.9 318.8h0M1067.9 323.8h0M1067.9 328.8h0M1067.9 333.7h0M1067.9 338.7h0M1067.9 343.7h0M1067.9 348.7h0M1067.9 353.7h0M1067.9 358.7h0M1067.9 363.7h0M1067.9 368.6h0M1067.9 373.6h0M1067.9 378.6h0M1067.9 383.6h0M1067.9 388.6h0M1067.9 393.6h0M1067.9 398.6h0M1067.9 403.6h0M1067.9 408.5h0M1067.9 413.5h0M1067.9 418.5h0M1067.9 423.5h0M1067.9 428.5h0M1067.9 433.5h0M1067.9 438.5h0M1067.9 443.4h0M1067.9 448.4h0M1067.9 453.4h0M1067.9 458.4h0M1078.6 334.2h0M1078.6 339.3h0M1078.6 344.3h0M1078.6 349.4h0M1078.6 354.4h0M1078.6 359.5h0M1078.6 364.5h0M1078.6 369.6h0M1078.6 374.6h0M1078.6 379.7h0M1078.6 384.7h0M1078.6 389.8h0M1078.6 394.8h0M1078.6 399.9h0M1078.6 404.9h0M1078.6 409.9h0M1078.6 415.0h0M1078.6 420.1h0M1078.6 425.1h0M1078.6 445.3h0M1078.6 450.3h0M1078.6 455.4h0M1078.6 428.4h0M1078.6 445.0h0M1089.4 328.0h0M1089.4 332.9h0M1089.4 337.9h0M1089.4 342.8h0M1089.4 347.7h0M1089.4 352.7h0M1089.4 357.6h0M1089.4 362.5h0M1089.4 367.5h0M1089.4 372.4h0M1089.4 377.3h0M1089.4 382.3h0M1089.4 387.2h0M1089.4 392.1h0M1089.4 397.1h0M1089.4 402.0h0M1089.4 406.9h0M1089.4 411.9h0M1089.4 416.8h0M1089.4 421.7h0M1089.4 426.7h0M1089.4 431.6h0M1089.4 436.5h0M1089.4 441.5h0M1089.4 446.4h0M1100.1 322.9h0M1100.1 327.9h0M1100.1 332.8h0M1100.1 337.8h0M1100.1 342.8h0M1100.1 347.7h0M1100.1 352.7h0M1100.1 357.7h0M1100.1 362.6h0M1100.1 367.6h0M1100.1 372.6h0M1100.1 377.5h0M1100.1 382.5h0M1100.1 387.5h0M1100.1 392.4h0M1100.1 397.4h0M1100.1 402.4h0M1100.1 407.3h0M1100.1 412.3h0M1100.1 417.3h0M1100.1 422.2h0M1100.1 427.2h0M1100.1 432.2h0M1100.1 437.1h0M1100.1 442.1h0M1100.1 447.1h0M1100.1 452.0h0M1100.1 457.0h0M1100.1 462.0h0M1100.1 466.9h0M1100.1 471.9h0M1110.9 322.1h0M1110.9 327.1h0M1110.9 332.1h0M1110.9 337.1h0M1110.9 342.1h0M1110.9 347.1h0M1110.9 352.2h0M1110.9 357.2h0M1110.9 362.2h0M1110.9 367.2h0M1110.9 372.2h0M1110.9 377.2h0M1110.9 382.2h0M1110.9 387.2h0M1110.9 392.2h0M1110.9 397.2h0M1110.9 402.2h0M1110.9 407.2h0M1110.9 412.3h0M1110.9 417.3h0M1110.9 422.3h0M1110.9 427.3h0M1110.9 432.3h0M1110.9 437.3h0M1110.9 442.3h0M1110.9 447.3h0M1110.9 452.3h0M1110.9 457.3h0M1110.9 462.3h0M1110.9 467.4h0M1110.9 472.4h0M1110.9 477.4h0M1110.9 477.7h0M1110.9 494.3h0M1121.7 330.1h0M1121.7 335.1h0M1121.7 340.1h0M1121.7 345.0h0M1121.7 350.0h0M1121.7 355.0h0M1121.7 360.0h0M1121.7 364.9h0M1121.7 369.9h0M1121.7 374.9h0M1121.7 379.9h0M1121.7 384.9h0M1121.7 389.8h0M1121.7 394.8h0M1121.7 399.8h0M1121.7 404.8h0M1121.7 424.7h0M1121.7 429.6h0M1121.7 434.6h0M1121.7 439.6h0M1121.7 444.6h0M1121.7 449.6h0M1121.7 454.5h0M1121.7 459.5h0M1121.7 464.5h0M1121.7 469.5h0M1121.7 474.4h0M1121.7 479.4h0M1121.7 484.4h0M1121.7 407.7h0M1121.7 424.3h0M1132.4 338.3h0M1132.4 343.3h0M1132.4 348.3h0M1132.4 353.3h0M1132.4 358.3h0M1132.4 363.3h0M1132.4 368.3h0M1132.4 373.2h0M1132.4 378.2h0M1132.4 383.2h0M1132.4 388.2h0M1132.4 393.2h0M1132.4 398.2h0M1132.4 403.2h0M1132.4 408.2h0M1132.4 413.2h0M1132.4 418.2h0M1132.4 423.2h0M1132.4 428.2h0M1132.4 433.2h0M1132.4 473.1h0M1132.4 478.1h0M1132.4 451.9h0M1132.4 468.5h0M1132.4 436.7h0M1132.4 453.3h0M1143.2 331.1h0M1143.2 336.1h0M1143.2 341.2h0M1143.2 346.2h0M1143.2 351.3h0M1143.2 356.3h0M1143.2 381.5h0M1143.2 386.6h0M1143.2 391.6h0M1143.2 396.7h0M1143.2 401.7h0M1143.2 406.8h0M1143.2 411.8h0M1143.2 416.9h0M1143.2 421.9h0M1143.2 426.9h0M1143.2 432.0h0M1143.2 437.0h0M1143.2 442.1h0M1143.2 447.1h0M1143.2 452.2h0M1143.2 457.2h0M1143.2 462.2h0M1143.2 467.3h0M1143.2 472.3h0M1143.2 477.4h0M1143.2 482.4h0M1143.2 487.5h0M1143.2 492.5h0M1143.2 497.6h0M1143.2 502.6h0M1143.2 360.1h0M1143.2 376.7h0M1153.9 346.4h0M1153.9 351.4h0M1153.9 356.3h0M1153.9 361.3h0M1153.9 366.3h0M1153.9 371.2h0M1153.9 376.2h0M1153.9 381.2h0M1153.9 386.1h0M1153.9 391.1h0M1153.9 396.1h0M1153.9 401.0h0M1153.9 406.0h0M1153.9 411.0h0M1153.9 415.9h0M1153.9 420.9h0M1153.9 425.8h0M1153.9 430.8h0M1153.9 435.8h0M1153.9 440.7h0M1153.9 445.7h0M1153.9 450.7h0M1153.9 455.6h0M1153.9 475.5h0M1153.9 459.0h0M1153.9 475.6h0M1153.9 475.7h0M1153.9 492.3h0M1164.7 354.6h0M1164.7 359.6h0M1164.7 364.7h0M1164.7 369.7h0M1164.7 374.7h0M1164.7 379.7h0M1164.7 384.8h0M1164.7 389.8h0M1164.7 394.8h0M1164.7 399.8h0M1164.7 404.9h0M1164.7 409.9h0M1164.7 414.9h0M1164.7 420.0h0M1164.7 425.0h0M1164.7 430.0h0M1164.7 435.0h0M1164.7 440.1h0M1164.7 445.1h0M1164.7 450.1h0M1164.7 455.2h0M1164.7 460.2h0M1164.7 465.2h0M1164.7 470.2h0M1164.7 475.3h0M1164.7 480.3h0M1164.7 485.3h0M1164.7 490.3h0M1164.7 495.4h0M1164.7 500.4h0M1175.5 399.5h0M1175.5 404.4h0M1175.5 409.4h0M1175.5 414.3h0M1175.5 419.3h0M1175.5 439.1h0M1175.5 444.0h0M1175.5 449.0h0M1175.5 453.9h0M1175.5 458.9h0M1175.5 463.8h0M1175.5 421.3h0M1175.5 437.9h0M1186.2 371.9h0M1186.2 376.8h0M1186.2 381.7h0M1186.2 386.5h0M1186.2 391.4h0M1186.2 396.3h0M1186.2 401.2h0M1186.2 406.0h0M1186.2 410.9h0M1186.2 415.8h0M1186.2 420.7h0M1186.2 425.6h0M1186.2 430.4h0M1186.2 435.3h0M1186.2 440.2h0M1186.2 445.1h0M1186.2 449.9h0M1186.2 454.8h0M1186.2 459.7h0M1197.0 375.0h0M1197.0 379.9h0M1197.0 384.8h0M1197.0 404.3h0M1197.0 428.8h0M1197.0 433.7h0M1197.0 438.6h0M1197.0 443.5h0M1197.0 448.3h0M1197.0 453.2h0M1197.0 458.1h0M1197.0 463.0h0M1197.0 467.9h0M1197.0 386.7h0M1197.0 403.3h0M1197.0 409.0h0M1197.0 425.6h0M1207.7 362.6h0M1207.7 367.6h0M1207.7 372.6h0M1207.7 377.6h0M1207.7 382.7h0M1207.7 387.7h0M1207.7 392.7h0M1207.7 397.7h0M1207.7 402.7h0M1207.7 407.7h0M1207.7 412.7h0M1207.7 417.8h0M1207.7 422.8h0M1207.7 427.8h0M1207.7 432.8h0M1207.7 437.8h0M1207.7 442.8h0M1207.7 447.8h0M1207.7 452.9h0M1207.7 453.7h0M1207.7 470.3h0M1218.5 358.6h0M1218.5 363.6h0M1218.5 368.6h0M1218.5 373.7h0M1218.5 378.7h0M1218.5 383.7h0M1218.5 388.7h0M1218.5 393.7h0M1218.5 398.7h0M1218.5 403.8h0M1218.5 408.8h0M1218.5 413.8h0M1218.5 418.8h0M1218.5 423.8h0M1218.5 428.8h0M1218.5 433.9h0M1218.5 438.9h0M1218.5 443.9h0M1218.5 448.9h0M1218.5 453.9h0M1218.5 458.9h0M1218.5 464.0h0M1218.5 469.0h0M1218.5 474.0h0M1229.3 357.6h0M1229.3 362.7h0M1229.3 367.8h0M1229.3 372.9h0M1229.3 378.0h0M1229.3 383.1h0M1229.3 388.2h0M1229.3 393.3h0M1229.3 398.4h0M1229.3 403.5h0M1229.3 408.6h0M1229.3 413.7h0M1229.3 418.9h0M1229.3 424.0h0M1229.3 429.1h0M1229.3 434.2h0M1229.3 439.3h0M1229.3 444.4h0M1229.3 449.5h0M1229.3 454.6h0M1229.3 475.0h0M1229.3 480.1h0M1229.3 457.0h0M1229.3 473.6h0M1240.0 377.0h0M1240.0 382.1h0M1240.0 387.1h0M1240.0 392.2h0M1240.0 397.2h0M1240.0 402.3h0M1240.0 407.3h0M1240.0 412.4h0M1240.0 417.5h0M1240.0 422.5h0M1240.0 427.6h0M1240.0 432.6h0M1240.0 437.7h0M1240.0 442.7h0M1240.0 463.0h0M1240.0 468.0h0M1240.0 473.1h0M1240.0 478.1h0M1240.0 483.2h0M1240.0 444.7h0M1240.0 461.3h0M1250.8 371.9h0M1250.8 377.0h0M1250.8 382.0h0M1250.8 387.1h0M1250.8 392.1h0M1250.8 397.2h0M1250.8 402.3h0M1250.8 407.3h0M1250.8 412.4h0M1250.8 417.4h0M1250.8 437.7h0M1250.8 442.7h0M1250.8 447.8h0M1250.8 452.8h0M1250.8 457.9h0M1250.8 463.0h0M1250.8 468.0h0M1250.8 473.1h0M1250.8 478.1h0M1250.8 483.2h0M1250.8 419.3h0M1250.8 435.9h0M1261.5 370.9h0M1261.5 376.0h0M1261.5 381.0h0M1261.5 386.1h0M1261.5 391.1h0M1261.5 396.2h0M1261.5 401.3h0M1261.5 406.3h0M1261.5 411.4h0M1261.5 416.4h0M1261.5 421.5h0M1261.5 426.6h0M1261.5 431.6h0M1261.5 436.7h0M1261.5 441.7h0M1261.5 446.8h0M1261.5 451.8h0M1261.5 456.9h0M1261.5 462.0h0M1261.5 467.0h0M1261.5 472.1h0M1261.5 477.1h0M1261.5 482.2h0M1272.3 415.8h0M1272.3 421.6h0M1272.3 427.4h0M1272.3 433.2h0"/></defs><path d="M746.1 205.3h0M757.8 221.0h0M768.6 235.7h0M779.4 248.4h0M790.1 261.1h0M800.9 273.8h0M810.7 285.6h0M821.4 297.3h0M832.2 308.1h0M843.0 318.5h0M853.7 328.6h0M864.5 337.4h0M875.3 346.2h0M886.0 355.0h0M896.8 363.5h0M907.0 237.6h0M918.9 248.6h0M1035.5 477.0h0M1046.3 487.0h0M1046.3 500.5h0M1067.8 521.8h0M1057.0 475.5h0M1068.0 476.0h0M1099.4 495.5h0M1110.6 495.5h0" stroke-width="10.8"/><path d="M928.8 312.9h0M928.8 338.8h0M934.2 316.6h0M934.2 341.8h0M939.6 320.4h0M939.6 344.7h0M945.0 322.0h0M945.0 347.1h0M950.3 323.7h0M950.3 349.6h0M955.7 326.4h0M955.7 353.9h0M961.1 329.0h0M961.1 358.2h0M966.5 331.8h0M966.5 361.4h0M971.8 334.5h0M971.8 364.7h0M977.2 337.8h0M977.2 368.5h0M982.6 341.0h0M982.6 372.3h0M988.0 343.4h0M988.0 376.6h0M993.4 345.8h0M993.4 380.9h0M998.8 348.3h0M998.8 384.4h0M1276.0 425.2h0M1281.4 427.5h0M1286.8 429.8h0M1292.1 432.1h0M1297.5 434.4h0M1302.9 436.7h0M1308.3 439.0h0M1313.7 441.3h0M1319.0 443.6h0M1324.4 445.9h0M1329.8 448.2h0M1335.2 450.5h0M1340.6 452.8h0M1345.9 455.2h0M1351.3 457.5h0M1356.7 459.8h0M1362.1 462.1h0M1367.5 464.4h0" stroke-width="10.4"/><use href="#ip" stroke-width="11.8"/><use href="#ip" stroke-width="10.4" stroke-linecap="square"/></g><g stroke="#1c1c1c" fill="none"><rect x="741.3" y="195.6" width="626.7" height="362.4" stroke-width="3"/><path d="M895.4 558v-5.5M895.4 195.6v6.5M1109.5 558v-5.5M1109.5 195.6v6.5M1323 558v-5.5M1323 195.6v6.5" stroke-width="2.6" stroke="#4a4a4a"/><path d="M741.3 249.4h7.5M1368 249.4h-7.5M741.3 353.5h7.5M1368 353.5h-7.5M741.3 457.6h7.5M1368 457.6h-7.5" stroke-width="3"/></g></svg>
</body></html>
